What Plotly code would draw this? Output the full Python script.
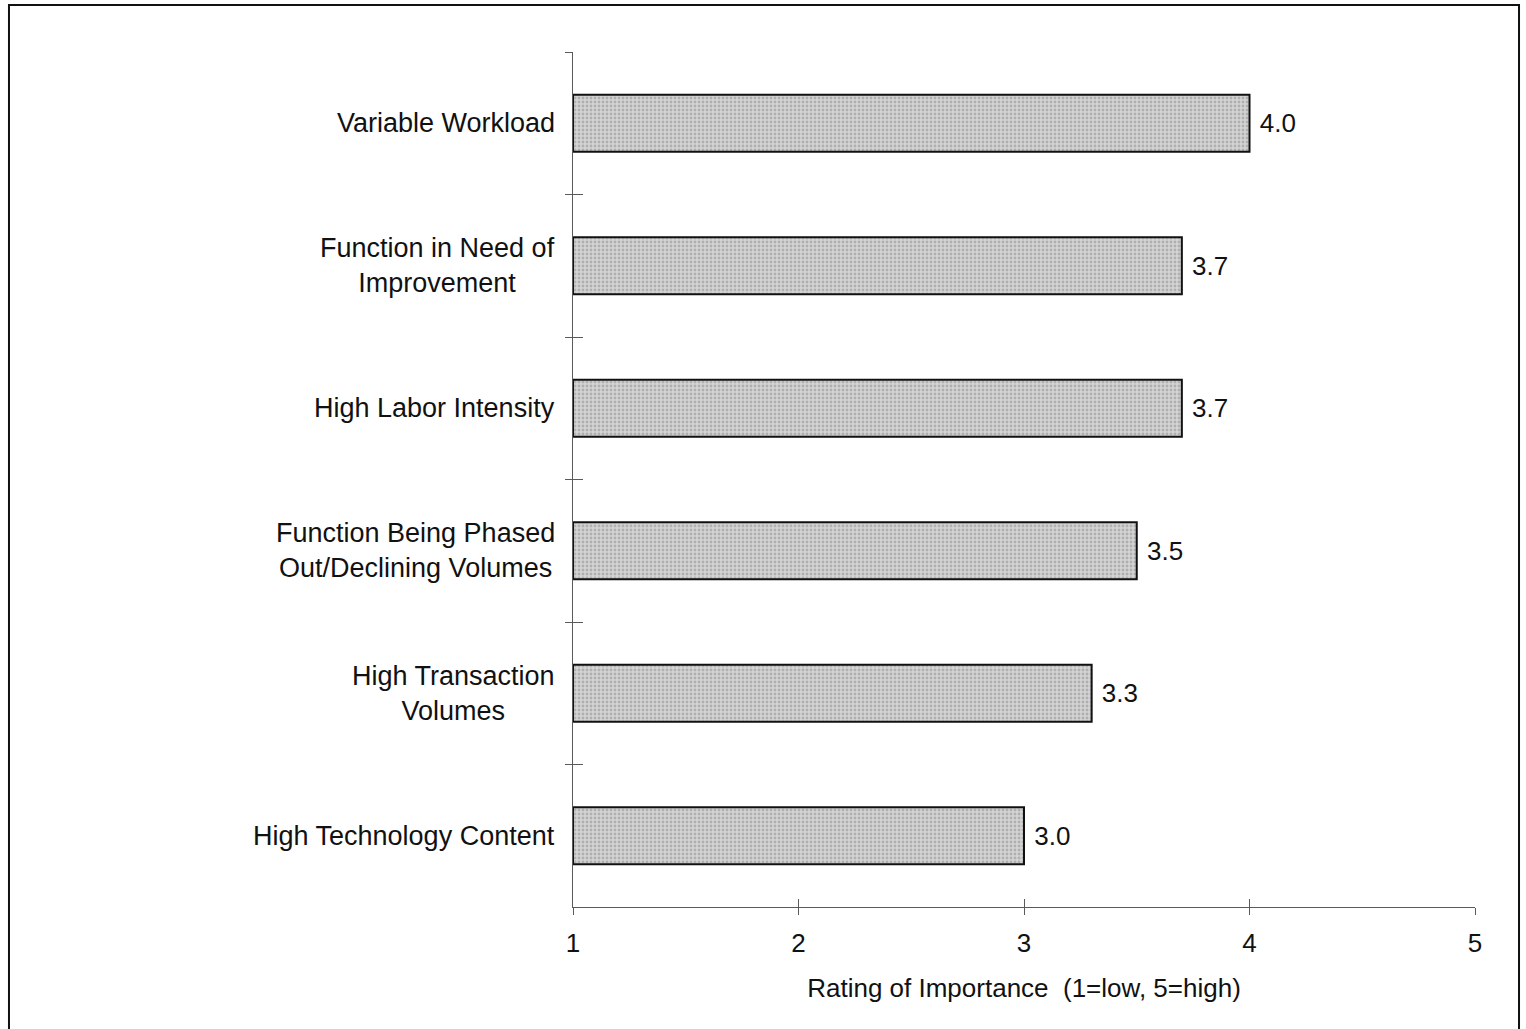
import plotly.graph_objects as go

# Factors and their average importance ratings (top to bottom)
factors = [
    "Variable Workload",
    "Function in Need of<br>Improvement",
    "High Labor Intensity",
    "Function Being Phased<br>Out/Declining Volumes",
    "High Transaction<br>Volumes",
    "High Technology Content",
]
ratings = [4.0, 3.7, 3.7, 3.5, 3.3, 3.0]
scale_ticks = [1, 2, 3, 4, 5]
axis_title = "Rating of Importance  (1=low, 5=high)"

SCALE_MIN = 1
FONT = "Liberation Sans, Arial, sans-serif"
FS = 26
TXT = "#111111"
AXC = "#5a5a5a"

fig = go.Figure()
fig.add_trace(
    go.Bar(
        y=factors,
        x=[r - SCALE_MIN for r in ratings],
        base=SCALE_MIN,
        orientation="h",
        width=0.4,
        marker=dict(
            color="#cfcfcf",
            line=dict(color="#111111", width=2),
            pattern=dict(shape=".", fgcolor="#8c8c8c", bgcolor="#d4d4d4",
                         size=4, solidity=0.4),
        ),
        text=[f"\u00a0{r:.1f}" for r in ratings],
        textposition="outside",
        textfont=dict(family=FONT, size=FS, color=TXT),
        cliponaxis=False,
        hoverinfo="skip",
    )
)

# Empty trace so the overlaid axes (inner tick halves) get drawn
fig.add_trace(go.Scatter(x=[], y=[], xaxis="x2", yaxis="y2",
                         showlegend=False, hoverinfo="skip"))

# Category labels, centred line by line to the left of the axis
for name in factors:
    fig.add_annotation(
        x=0, xref="paper", y=name, yref="y",
        text=name, showarrow=False,
        xanchor="right", yanchor="middle", align="center",
        xshift=-16,
        font=dict(family=FONT, size=27, color=TXT),
    )

# Outer frame
fig.add_shape(
    type="rect", xref="paper", yref="paper",
    x0=-0.6253, x1=1.0488, y0=-0.1497, y1=1.0550,
    line=dict(color="#111111", width=2),
)

fig.update_layout(
    width=1526, height=1029,
    margin=dict(l=573, r=51, t=52, b=122),
    paper_bgcolor="white", plot_bgcolor="white",
    showlegend=False,
    font=dict(family=FONT, size=FS, color=TXT),
    xaxis=dict(
        range=[1, 5], tickvals=scale_ticks,
        showgrid=False, zeroline=False,
        showline=True, linecolor=AXC, linewidth=1,
        ticks="outside", ticklen=7, tickcolor=AXC, tickwidth=1,
        ticklabelstandoff=6,
        tickfont=dict(family=FONT, size=FS, color=TXT),
        title=dict(text=axis_title, standoff=21,
                   font=dict(family=FONT, size=FS, color=TXT)),
    ),
    xaxis2=dict(
        range=[1, 5], tickvals=scale_ticks, overlaying="x",
        anchor="y2", side="bottom",
        showgrid=False, zeroline=False, showline=False,
        ticks="inside", ticklen=8, tickcolor=AXC, tickwidth=1,
        showticklabels=False,
    ),
    yaxis=dict(
        type="category", categoryorder="array", categoryarray=factors,
        range=[5.5, -0.5],
        showgrid=False, zeroline=False,
        showline=True, linecolor=AXC, linewidth=1,
        ticks="outside", tickson="boundaries", ticklen=7,
        tickcolor=AXC, tickwidth=1,
        showticklabels=False,
    ),
    yaxis2=dict(
        type="category", categoryorder="array", categoryarray=factors,
        range=[5.5, -0.5], overlaying="y", anchor="x2", side="left",
        showgrid=False, zeroline=False, showline=False,
        ticks="inside", tickson="boundaries", ticklen=10,
        tickcolor=AXC, tickwidth=1,
        showticklabels=False,
    ),
)

fig.write_html("out.html")
